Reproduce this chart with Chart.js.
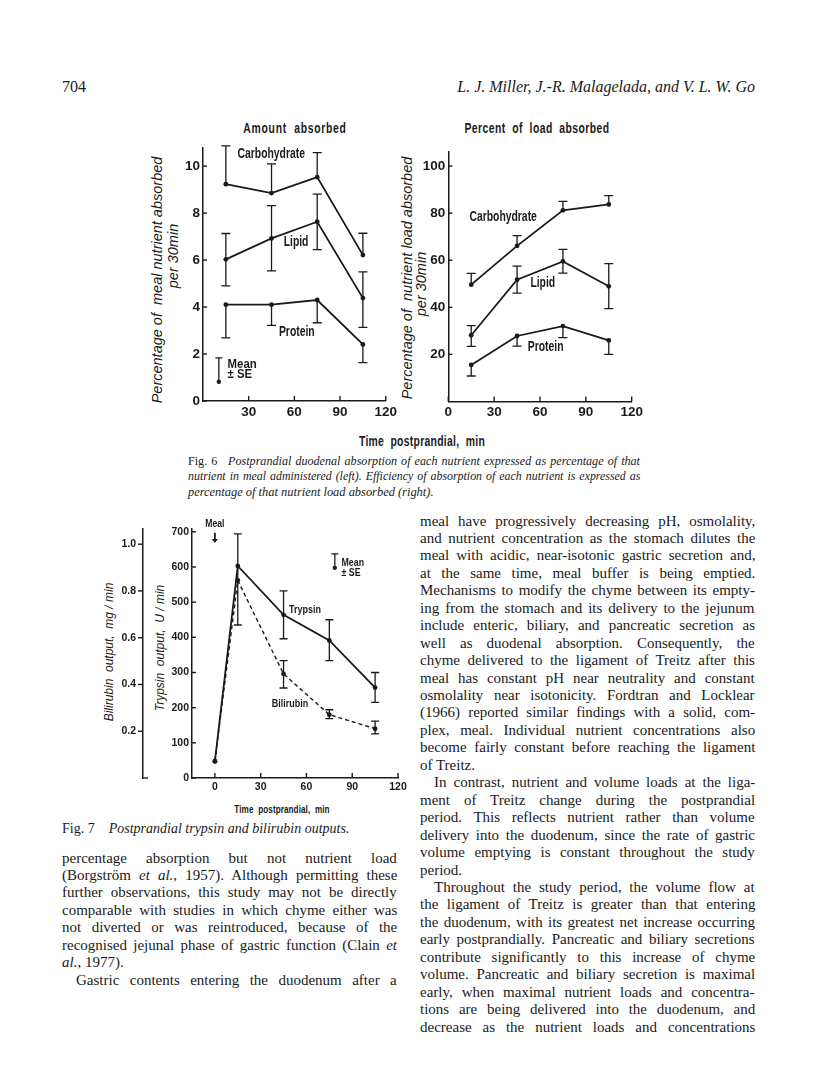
<!DOCTYPE html>
<html><head><meta charset="utf-8">
<script src="https://cdn.jsdelivr.net/npm/chart.js@4.4.1/dist/chart.umd.min.js"></script>
<style>
html,body{margin:0;padding:0;background:#fff;}
body{width:816px;height:1079px;position:relative;overflow:hidden;font-family:'Liberation Serif','Times New Roman',serif;color:#1a1a1a;}
.t{position:absolute;white-space:nowrap;}
.c{transform:translate(-50%,-50%) scaleX(0.74);}
.v{transform:translate(-50%,-50%) rotate(-90deg);}
.cond{font-family:'Liberation Sans',Arial,sans-serif;font-weight:bold;}
.ax{font-family:'Liberation Sans',Arial,sans-serif;font-style:italic;}
.ln{position:absolute;white-space:nowrap;font-size:15px;line-height:18px;transform-origin:0 50%;}
canvas{position:absolute;}
</style></head>
<body>
<div class="t" style="left:62px;top:78px;font-size:16px;">704</div>
<div class="t" style="right:61px;top:78px;font-size:16px;font-style:italic;">L. J. Miller, J.-R. Malagelada, and V. L. W. Go</div>

<div class="t c cond" style="left:295px;top:128px;font-size:14px;letter-spacing:1px;">Amount &nbsp;absorbed</div>
<div class="t c cond" style="left:537px;top:128px;font-size:14px;letter-spacing:0.6px;">Percent &nbsp;of &nbsp;load &nbsp;absorbed</div>
<div class="t v ax" style="left:157px;top:280px;font-size:14.5px;">Percentage of &nbsp;meal nutrient absorbed</div>
<div class="t v ax" style="left:173px;top:256px;font-size:14.5px;">per 30min</div>
<div class="t v ax" style="left:407px;top:278px;font-size:14.5px;">Percentage of &nbsp;nutrient load absorbed</div>
<div class="t v ax" style="left:421px;top:284px;font-size:14.5px;">per 30min</div>
<div class="t c cond" style="left:422px;top:441px;font-size:14px;letter-spacing:0.4px;">Time &nbsp;postprandial, &nbsp;min</div>

<div class="t v ax" style="left:109px;top:652px;font-size:12px;">Bilirubin &nbsp;output, &nbsp;mg / min</div>
<div class="t v ax" style="left:160px;top:648px;font-size:12px;">Trypsin &nbsp;output, &nbsp;U / min</div>
<div class="t c cond" style="left:282px;top:809px;font-size:11px;letter-spacing:0.1px;">Time &nbsp;postprandial, &nbsp;min</div>

<canvas id="c1" width="260" height="290" style="left:140px;top:135px;"></canvas>
<canvas id="c2" width="260" height="290" style="left:390px;top:135px;"></canvas>
<canvas id="c3" width="320" height="290" style="left:100px;top:515px;"></canvas>

<div id="text"></div>

<script>
// ---------- DATA ----------
const timesF6 = [15, 45, 75, 105];
const carbAmt   = [9.23, 8.85, 9.53, 6.21];
const carbAmtHi = [10.86, 10.09, 10.57, 7.14];
const carbAmtLo = [null, null, null, null];
const lipidAmt   = [6.03, 6.92, 7.63, 4.38];
const lipidAmtHi = [7.13, 8.32, 8.81, 5.50];
const lipidAmtLo = [4.90, 5.54, 6.44, 3.13];
const protAmt   = [4.10, 4.10, 4.30, 2.41];
const protAmtHi = [null, null, null, null];
const protAmtLo = [2.69, 3.22, 3.33, 1.63];

const carbPct   = [49.6, 66.1, 81.2, 83.7];
const carbPctHi = [54.4, 70.4, 85.0, 87.4];
const carbPctLo = [null, null, null, null];
const lipidPct   = [28.1, 51.7, 59.5, 48.9];
const lipidPctHi = [32.2, 57.5, 64.6, 58.5];
const lipidPctLo = [23.4, 46.0, 54.5, 39.4];
const protPct   = [15.5, 27.8, 32.0, 25.9];
const protPctHi = [null, null, null, null];
const protPctLo = [10.8, 23.5, 27.1, 20.0];

const timesF7 = [0, 15, 45, 75, 105];
const trypsin   = [47, 603, 464, 391, 257];
const trypsinHi = [null, 694, 532, 450, 300];
const trypsinLo = [null, 435, 396, 334, 215];
const bilirubin   = [0.072, 0.845, 0.445, 0.271, 0.211];
const bilirubinHi = [null, null, 0.502, 0.292, 0.243];
const bilirubinLo = [null, null, 0.385, 0.254, 0.189];

const amtYTicks = [0, 2, 4, 6, 8, 10];
const amtXTicks = [30, 60, 90, 120];
const pctYTicks = [20, 40, 60, 80, 100];
const pctXTicks = [0, 30, 60, 90, 120];
const trypYTicks = [0, 100, 200, 300, 400, 500, 600, 700];
const biliYTicks = [0.2, 0.4, 0.6, 0.8, 1.0];
const f7XTicks = [0, 30, 60, 90, 120];

// ---------- STYLE ----------
const INK = '#1a1a1a';
const SANS = '"Liberation Sans",Arial,sans-serif';
const pts = (xs, ys) => xs.map((x, i) => ({x, y: ys[i]}));
const setTicks = arr => s => { s.ticks = arr.map(v => ({value: v})); };

const decor = {
  id: 'decor',
  afterDatasetsDraw(chart, args, o) {
    const ctx = chart.ctx;
    ctx.save();
    ctx.strokeStyle = INK; ctx.fillStyle = INK; ctx.setLineDash([]);
    const cap = o.cap || 4.5;
    chart.data.datasets.forEach((ds, i) => {
      const meta = chart.getDatasetMeta(i);
      const ys = chart.scales[meta.yAxisID];
      meta.data.forEach((pt, j) => {
        [ds.errHi && ds.errHi[j], ds.errLo && ds.errLo[j]].forEach(v => {
          if (v == null) return;
          const py = ys.getPixelForValue(v);
          ctx.lineWidth = 1.3;
          ctx.beginPath();
          ctx.moveTo(pt.x, pt.y); ctx.lineTo(pt.x, py);
          ctx.moveTo(pt.x - cap, py); ctx.lineTo(pt.x + cap, py);
          ctx.stroke();
        });
      });
    });
    ctx.lineWidth = 1.4;
    (o.ticks || []).forEach(tk => {
      const s = chart.scales[tk.id];
      s.ticks.forEach(t => {
        const p = s.getPixelForValue(t.value);
        ctx.beginPath();
        if (s.isHorizontal()) { ctx.moveTo(p, s.top); ctx.lineTo(p, s.top + tk.len); }
        else { ctx.moveTo(s.right, p); ctx.lineTo(s.right + tk.len, p); }
        ctx.stroke();
      });
    });
    if (o.foot) {
      const s = chart.scales[o.foot.id];
      ctx.beginPath(); ctx.moveTo(s.right - 0.7, s.bottom); ctx.lineTo(s.right + o.foot.len, s.bottom); ctx.stroke();
    }
    const xs = chart.scales.x;
    ctx.textBaseline = 'middle';
    const txt = (s, x, y, font, align, sx) => {
      ctx.save(); ctx.font = font; ctx.textAlign = align || 'center';
      ctx.translate(x, y); ctx.scale(sx || 1, 1); ctx.fillText(s, 0, 0); ctx.restore();
    };
    (o.texts || []).forEach(t => {
      const ys = chart.scales[t.axis || 'y'];
      txt(t.text, xs.getPixelForValue(t.x), ys.getPixelForValue(t.y), t.font, t.align, o.sx);
    });
    if (o.key) {
      const k = o.key, ys = chart.scales.y;
      const px = xs.getPixelForValue(k.x), pt = ys.getPixelForValue(k.top), pb = ys.getPixelForValue(k.bot);
      ctx.lineWidth = 1.3;
      ctx.beginPath(); ctx.moveTo(px, pb); ctx.lineTo(px, pt);
      ctx.moveTo(px - 3.5, pt); ctx.lineTo(px + 3.5, pt); ctx.stroke();
      ctx.beginPath(); ctx.arc(px, pb, 2.2, 0, Math.PI * 2); ctx.fill();
      k.lines.forEach(l => txt(l[0], xs.getPixelForValue(k.tx), ys.getPixelForValue(l[1]), k.font, 'left', k.sx));
    }
    if (o.arrow) {
      const a = o.arrow, ys = chart.scales.y;
      const px = xs.getPixelForValue(a.x), p1 = ys.getPixelForValue(a.from), p2 = ys.getPixelForValue(a.to);
      ctx.lineWidth = 1.8;
      ctx.beginPath(); ctx.moveTo(px, p1); ctx.lineTo(px, p2 - 3); ctx.stroke();
      ctx.beginPath(); ctx.moveTo(px - 3, p2 - 4); ctx.lineTo(px + 3, p2 - 4); ctx.lineTo(px, p2); ctx.closePath(); ctx.fill();
    }
    ctx.restore();
  }
};

function series(xs, ys, hi, lo, extra) {
  return Object.assign({
    data: pts(xs, ys), errHi: hi, errLo: lo, showLine: true,
    borderColor: INK, backgroundColor: INK, borderWidth: 1.8,
    pointRadius: 2.4, pointBorderWidth: 0, pointHoverRadius: 2.4
  }, extra || {});
}

function axisX(min, max, ticks, h, size, pad) {
  return {
    type: 'linear', min, max, afterBuildTicks: setTicks(ticks), afterFit: s => { s.height = h; },
    grid: {display: false, drawTicks: false}, border: {display: true, color: INK, width: 1.5},
    ticks: {color: INK, padding: pad, maxRotation: 0, font: {family: SANS, size, weight: 'bold'}}
  };
}
function axisY(min, max, ticks, w, size, pad, extra) {
  return Object.assign({
    type: 'linear', min, max, afterBuildTicks: setTicks(ticks), afterFit: s => { s.width = w; },
    grid: {display: false, drawTicks: false}, border: {display: true, color: INK, width: 1.5},
    ticks: {color: INK, padding: pad, font: {family: SANS, size, weight: 'bold'}}
  }, extra || {});
}
const base = pad => ({
  responsive: false, maintainAspectRatio: false, animation: false, devicePixelRatio: 1,
  layout: {padding: pad, autoPadding: false},
  events: []
});
const F14 = 'bold 14px ' + SANS;

new Chart(document.getElementById('c1'), {
  type: 'scatter',
  data: {datasets: [
    series(timesF6, carbAmt, carbAmtHi, carbAmtLo),
    series(timesF6, lipidAmt, lipidAmtHi, lipidAmtLo),
    series(timesF6, protAmt, protAmtHi, protAmtLo)
  ]},
  options: Object.assign(base({top: 13, right: 13, left: 0, bottom: 0}), {
    scales: {x: axisX(0, 120, amtXTicks, 24, 13.5, 3), y: axisY(0, 10.77, amtYTicks, 63, 13.5, 3)},
    plugins: {legend: {display: false}, tooltip: {enabled: false}, decor: {
      sx: 0.74,
      ticks: [{id: 'x', len: -5}, {id: 'y', len: 4}],
      texts: [
        {text: 'Carbohydrate', x: 44.8, y: 10.51, font: F14},
        {text: 'Lipid', x: 61.1, y: 6.77, font: F14},
        {text: 'Protein', x: 61.6, y: 2.95, font: F14}
      ],
      key: {x: 10.4, top: 1.84, bot: 0.82, tx: 16.1, sx: 0.88, font: 'bold 13px ' + SANS, lines: [['Mean', 1.57], ['± SE', 1.14]]}
    }}
  }),
  plugins: [decor]
});

new Chart(document.getElementById('c2'), {
  type: 'scatter',
  data: {datasets: [
    series(timesF6, carbPct, carbPctHi, carbPctLo),
    series(timesF6, lipidPct, lipidPctHi, lipidPctLo),
    series(timesF6, protPct, protPctHi, protPctLo)
  ]},
  options: Object.assign(base({top: 16.7, right: 18.3, left: 0, bottom: 0}), {
    scales: {x: axisX(0, 120, pctXTicks, 23.6, 13.5, 3), y: axisY(0, 106.1, pctYTicks, 58.3, 13.5, 3)},
    plugins: {legend: {display: false}, tooltip: {enabled: false}, decor: {
      sx: 0.74,
      ticks: [{id: 'x', len: -5}, {id: 'y', len: 4}],
      texts: [
        {text: 'Carbohydrate', x: 35.9, y: 78.5, font: F14},
        {text: 'Lipid', x: 61.8, y: 50.2, font: F14},
        {text: 'Protein', x: 63.7, y: 23.0, font: F14}
      ]
    }}
  }),
  plugins: [decor]
});

new Chart(document.getElementById('c3'), {
  type: 'scatter',
  data: {datasets: [
    series(timesF7, trypsin, trypsinHi, trypsinLo, {yAxisID: 'y'}),
    series(timesF7, bilirubin, bilirubinHi, bilirubinLo, {yAxisID: 'y2', borderDash: [4, 3], borderWidth: 1.4})
  ]},
  options: Object.assign(base({top: 12, right: 22, left: 0, bottom: 0}), {
    scales: {
      x: axisX(-15, 120, f7XTicks, 27, 10.5, 3),
      y: axisY(0, 710, trypYTicks, 49, 10.5, 3, {position: 'left', weight: 0}),
      y2: axisY(0, 1.068, biliYTicks, 43, 10.5, 6, {position: 'left', weight: 1,
        ticks: {color: INK, padding: 7, font: {family: SANS, size: 10.5, weight: 'bold'}, callback: v => v.toFixed(1)}})
    },
    plugins: {legend: {display: false}, tooltip: {enabled: false}, decor: {
      cap: 4, sx: 0.78,
      ticks: [{id: 'x', len: -5}, {id: 'y', len: 4}, {id: 'y2', len: -5}],
      foot: {id: 'y2', len: 5},
      texts: [
        {text: 'Meal', x: 0, y: 722, font: 'bold 11px ' + SANS},
        {text: 'Trypsin', x: 59, y: 477, font: 'bold 11.5px ' + SANS},
        {text: 'Bilirubin', x: 49.2, y: 210, font: 'bold 11.5px ' + SANS}
      ],
      arrow: {x: 0, from: 697, to: 668},
      key: {x: 78.6, top: 637, bot: 597.5, tx: 83, sx: 0.8, font: 'bold 11px ' + SANS, lines: [['Mean', 612], ['± SE', 583]]}
    }}
  }),
  plugins: [decor]
});

// ---------- TEXT ----------
const LH = 17.45;
const rightCol = [
  ['meal have progressively decreasing pH, osmolality,', 1],
  ['and nutrient concentration as the stomach dilutes the', 1],
  ['meal with acidic, near-isotonic gastric secretion and,', 1],
  ['at the same time, meal buffer is being emptied.', 1],
  ['Mechanisms to modify the chyme between its empty-', 1],
  ['ing from the stomach and its delivery to the jejunum', 1],
  ['include enteric, biliary, and pancreatic secretion as', 1],
  ['well as duodenal absorption. Consequently, the', 1],
  ['chyme delivered to the ligament of Treitz after this', 1],
  ['meal has constant pH near neutrality and constant', 1],
  ['osmolality near isotonicity. Fordtran and Locklear', 1],
  ['(1966) reported similar findings with a solid, com-', 1],
  ['plex, meal. Individual nutrient concentrations also', 1],
  ['become fairly constant before reaching the ligament', 1],
  ['of Treitz.', 0],
  ['In contrast, nutrient and volume loads at the liga-', 2],
  ['ment of Treitz change during the postprandial', 1],
  ['period. This reflects nutrient rather than volume', 1],
  ['delivery into the duodenum, since the rate of gastric', 1],
  ['volume emptying is constant throughout the study', 1],
  ['period.', 0],
  ['Throughout the study period, the volume flow at', 2],
  ['the ligament of Treitz is greater than that entering', 1],
  ['the duodenum, with its greatest net increase occurring', 1],
  ['early postprandially. Pancreatic and biliary secretions', 1],
  ['contribute significantly to this increase of chyme', 1],
  ['volume. Pancreatic and biliary secretion is maximal', 1],
  ['early, when maximal nutrient loads and concentra-', 1],
  ['tions are being delivered into the duodenum, and', 1],
  ['decrease as the nutrient loads and concentrations', 1]
];
const leftCol = [
  ['percentage absorption but not nutrient load', 1],
  ['(Borgström <i>et al.</i>, 1957). Although permitting these', 1],
  ['further observations, this study may not be directly', 1],
  ['comparable with studies in which chyme either was', 1],
  ['not diverted or was reintroduced, because of the', 1],
  ['recognised jejunal phase of gastric function (Clain <i>et</i>', 1],
  ['<i>al.</i>, 1977).', 0],
  ['Gastric contents entering the duodenum after a', 2]
];
const host = document.getElementById('text');
function addLine(html, x, yc, W, mode, size, sxFixed) {
  const d = document.createElement('div');
  d.className = 'ln';
  d.style.left = x + 'px';
  d.style.fontSize = size + 'px';
  d.style.top = (yc - 10.5) + 'px';
  d.innerHTML = (mode === 2 ? '<span style="display:inline-block;width:14px"></span>' : '') + html;
  host.appendChild(d);
  if (sxFixed) d.style.transform = 'scaleX(' + sxFixed + ')';
  if (mode) {
    const n = (d.textContent.match(/ /g) || []).length;
    const w = d.offsetWidth;
    if (w + n * 1.2 > W) {
      const k = W / (w + n * 1.2);
      d.style.wordSpacing = '1.2px';
      d.style.transform = 'scaleX(' + k + ')';
    } else if (n) {
      d.style.wordSpacing = ((W - w) / n) + 'px';
    }
  }
}
rightCol.forEach((l, i) => addLine(l[0], 420, 522 + i * LH, 335, l[1], 15));
leftCol.forEach((l, i) => addLine(l[0], 62, 859 + i * LH, 335, l[1], 15));

addLine('Fig. 6<span style="display:inline-block;width:12px"></span><i>Postprandial duodenal absorption of each nutrient expressed as percentage of that</i>', 188, 462, 452, 1, 13.5);
addLine('<i>nutrient in meal administered (left). Efficiency of absorption of each nutrient is expressed as</i>', 188, 477.5, 452, 1, 13.5);
addLine('<i>percentage of that nutrient load absorbed (right).</i>', 188, 493, 452, 0, 13.5, 0.92);
addLine('Fig. 7<span style="display:inline-block;width:14px"></span><i>Postprandial trypsin and bilirubin outputs.</i>', 62, 830, 300, 0, 14);
</script>
</body></html>
